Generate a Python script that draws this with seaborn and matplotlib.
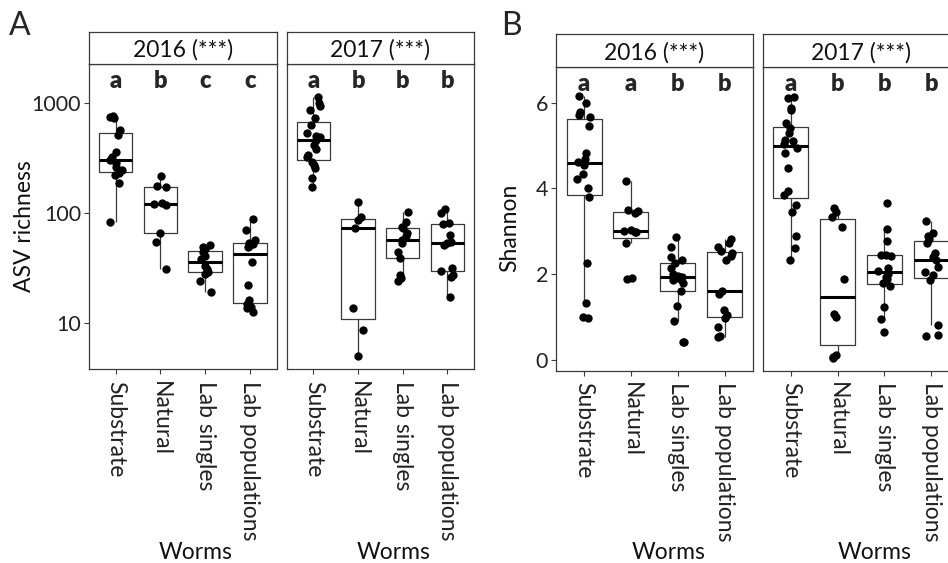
import numpy as np
import pandas as pd
import matplotlib
matplotlib.use("Agg")
import matplotlib.pyplot as plt
from matplotlib.ticker import NullLocator, FixedLocator, FixedFormatter
import seaborn as sns

# ---------------- data ----------------
CATEGORIES = ["Substrate", "Natural", "Lab singles", "Lab populations"]

richness_2016 = {
    "Substrate": [83, 185, 220, 228, 244, 263, 281, 303, 323, 355, 505, 564, 724, 746, 755],
    "Natural": [31, 54, 65, 117, 120, 123, 171, 174, 217],
    "Lab singles": [19, 24, 28, 29, 31, 33, 38, 40, 44, 47, 49, 51],
    "Lab populations": [12.6, 13.5, 14.0, 14.8, 16.1, 22.0, 35.9, 48.9, 50.1, 51.9, 53.3, 56.2, 69.7, 87.1],
}
richness_2017 = {
    "Substrate": [172, 206, 254, 272, 288, 319, 335, 377, 412, 458, 484, 501, 533, 627, 720, 851, 933, 986, 1135],
    "Natural": [5.0, 8.5, 13.5, 72.6, 85.9, 90.8, 124.2],
    "Lab singles": [24.1, 25.4, 27.2, 38.5, 43.7, 52.5, 56.5, 61.7, 65.0, 72.1, 74.1, 81.8, 100.9],
    "Lab populations": [17.0, 25.9, 27.2, 29.7, 31.2, 50.8, 53.5, 54.5, 62.7, 78.3, 80.2, 100.0, 107.4],
}
shannon_2016 = {
    "Substrate": [0.99, 1.0, 1.33, 2.25, 3.80, 4.0, 4.21, 4.33, 4.55, 4.62, 4.68, 4.83, 5.46, 5.66, 5.72, 5.77, 6.0, 6.16],
    "Natural": [1.90, 1.92, 2.72, 2.98, 2.99, 3.0, 3.02, 3.42, 3.47, 3.50, 4.18],
    "Lab singles": [0.41, 0.43, 0.92, 1.27, 1.6, 1.80, 1.86, 1.90, 1.93, 1.96, 2.0, 2.14, 2.25, 2.33, 2.40, 2.63, 2.86],
    "Lab populations": [0.53, 0.55, 0.78, 0.97, 1.05, 1.17, 1.53, 1.62, 2.33, 2.42, 2.50, 2.55, 2.64, 2.72, 2.81],
}
shannon_2017 = {
    "Substrate": [2.34, 2.62, 2.90, 3.46, 3.61, 3.84, 3.94, 4.47, 4.82, 4.95, 5.03, 5.10, 5.13, 5.28, 5.40, 5.52, 5.83, 5.87, 6.10, 6.13],
    "Natural": [0.05, 0.08, 0.12, 1.01, 1.07, 1.88, 3.11, 3.34, 3.46, 3.55],
    "Lab singles": [0.66, 0.95, 1.23, 1.72, 1.79, 1.88, 1.94, 2.0, 2.08, 2.14, 2.42, 2.45, 2.45, 2.78, 3.05, 3.67],
    "Lab populations": [0.56, 0.59, 0.82, 1.86, 1.98, 2.06, 2.17, 2.32, 2.40, 2.49, 2.72, 2.82, 2.90, 2.95, 3.24],
}

letters_rich_2016 = ["a", "b", "c", "c"]
letters_rich_2017 = ["a", "b", "b", "b"]
letters_shan_2016 = ["a", "a", "b", "b"]
letters_shan_2017 = ["a", "b", "b", "b"]

strip_titles = ["2016 (***)", "2017 (***)"]
rich_ticks = [10, 100, 1000]
rich_tick_labels = ["10", "100", "1000"]
shan_ticks = [0, 2, 4, 6]
shan_tick_labels = ["0", "2", "4", "6"]

# ---------------- style ----------------
sns.set_style("white")
plt.rcParams["font.family"] = ["Lato", "DejaVu Sans"]
EDGE = "#3a3a3a"
W, H = 948, 563
fig = plt.figure(figsize=(W / 100, H / 100), dpi=100)
np.random.seed(7)


def px_axes(x0, y0, x1, y1):
    return fig.add_axes([x0 / W, 1 - y1 / H, (x1 - x0) / W, (y1 - y0) / H])


def facet(box, strip_y, data, letters, title, log, ylim, letter_y,
          show_y, yticks, yticklabels, ylabel=None, ylabel_x=None):
    x0, y0, x1, y1 = box
    ax = px_axes(x0, y0, x1, y1)
    df = pd.DataFrame([(c, v) for c in CATEGORIES for v in data[c]],
                      columns=["Worms", "value"])
    sns.boxplot(data=df, x="Worms", y="value", order=CATEGORIES, ax=ax,
                width=0.75, fill=False, color=EDGE, linewidth=0.9,
                showfliers=False, log_scale=log,
                medianprops=dict(linewidth=2.2, color="black"),
                capprops=dict(linewidth=0))
    sns.stripplot(data=df, x="Worms", y="value", order=CATEGORIES, ax=ax,
                  color="black", size=6.0, jitter=0.15, linewidth=0,
                  log_scale=log, zorder=3)
    ax.set_xlim(-0.6, 3.6)
    ax.set_ylim(*ylim)
    ax.yaxis.set_major_locator(FixedLocator(yticks))
    ax.yaxis.set_major_formatter(FixedFormatter(yticklabels))
    ax.yaxis.set_minor_locator(NullLocator())
    for i, lt in enumerate(letters):
        ax.text(i, letter_y, lt, ha="center", va="center",
                fontweight="heavy", fontsize=17)
    for s in ax.spines.values():
        s.set_visible(True)
        s.set_color(EDGE)
        s.set_linewidth(0.9)
    ax.tick_params(axis="x", bottom=True, length=3.6, width=0.8, color=EDGE,
                   pad=4.5, labelsize=16.5, labelcolor="#222222")
    ax.tick_params(axis="y", left=show_y, labelleft=show_y, length=3.6,
                   width=0.8, color=EDGE, pad=2, labelsize=15.5,
                   labelcolor="#222222")
    for lab in ax.get_xticklabels():
        lab.set_rotation(-90)
        lab.set_ha("center")
        lab.set_va("top")
    ax.set_xlabel("Worms", fontsize=16.5, va="center", color="#111111")
    ax.xaxis.set_label_coords(0.57, -0.60)
    if ylabel:
        ax.set_ylabel(ylabel, fontsize=16.5, va="center", color="#111111")
        ax.yaxis.set_label_coords(ylabel_x, 0.47)
    else:
        ax.set_ylabel("")
    # strip
    sax = px_axes(x0, strip_y, x1, y0)
    sax.set_xticks([])
    sax.set_yticks([])
    sax.set_facecolor("white")
    for s in sax.spines.values():
        s.set_visible(True)
        s.set_color(EDGE)
        s.set_linewidth(0.9)
    sax.text(0.5, 0.45, title, ha="center", va="center", fontsize=16.5,
             color="#111111", transform=sax.transAxes)
    return ax


rich_lim = (3.77, 2234)
shan_lim = (-0.249, 6.823)

facet((88.7, 64.3, 276.7, 369.3), 32.3, richness_2016, letters_rich_2016,
      strip_titles[0], True, rich_lim, 1574, True, rich_ticks,
      rich_tick_labels, ylabel="ASV richness", ylabel_x=-0.339)
facet((286.7, 64.3, 474.0, 369.3), 32.3, richness_2017, letters_rich_2017,
      strip_titles[1], True, rich_lim, 1574, False, rich_ticks,
      rich_tick_labels)
facet((556.0, 67.3, 752.7, 370.7), 34.3, shannon_2016, letters_shan_2016,
      strip_titles[0], False, shan_lim, 6.445, True, shan_ticks,
      shan_tick_labels, ylabel="Shannon", ylabel_x=-0.234)
facet((762.7, 67.3, 959.4, 370.7), 34.3, shannon_2017, letters_shan_2017,
      strip_titles[1], False, shan_lim, 6.445, False, shan_ticks,
      shan_tick_labels)

fig.text(20 / W, 1 - 26 / H, "A", fontsize=23, ha="center", va="center")
fig.text(511.7 / W, 1 - 26 / H, "B", fontsize=23, ha="center", va="center")

fig.savefig("out.png", dpi=100)
